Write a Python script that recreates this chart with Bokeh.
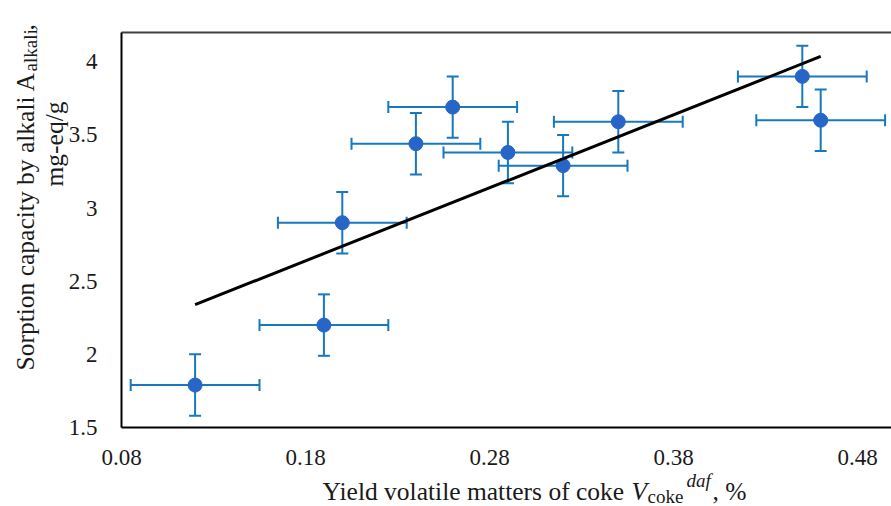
import numpy as np
from bokeh.plotting import figure
from bokeh.models import (ColumnDataSource, Whisker, TeeHead, FixedTicker, Label,
                          LinearAxis, Range1d)
from bokeh.embed import file_html
from bokeh.resources import INLINE

# ---- data ----
volatile = [0.12, 0.19, 0.20, 0.24, 0.26, 0.29, 0.32, 0.35, 0.45, 0.46]
sorption = [1.79, 2.20, 2.90, 3.44, 3.69, 3.38, 3.29, 3.59, 3.90, 3.60]
volatile_err = [0.035, 0.035, 0.035, 0.035, 0.035, 0.035, 0.035, 0.035, 0.035, 0.035]
sorption_err = [0.21, 0.21, 0.21, 0.21, 0.21, 0.21, 0.21, 0.21, 0.21, 0.21]
x_ticks = [0.08, 0.18, 0.28, 0.38, 0.48]
x_tick_labels = ["0.08", "0.18", "0.28", "0.38", "0.48"]
y_ticks = [1.5, 2.0, 2.5, 3.0, 3.5, 4.0]
y_tick_labels = ["1.5", "2", "2.5", "3", "3.5", "4"]
x_axis_min, y_axis_min, y_axis_max = 0.08, 1.5, 4.2

# ---- layout (pixels of the 891x506 canvas) ----
W, H = 891, 506
AX_L, AX_B, AX_T = 121, 427, 32     # pixel positions of the axis lines / top border
PXX = 1840.0                         # pixels per x unit
PXY = (AX_B - AX_T) / (y_axis_max - y_axis_min)
XA = x_axis_min - AX_L / PXX
XB = x_axis_min + (W - AX_L) / PXX
YB = y_axis_max + AX_T / PXY
YA = y_axis_min - (H - AX_B) / PXY


def dx(px):
    return XA + px / PXX


def dy(py):
    return YB - py / PXY


FONT = "Liberation Serif"
TXT = "#1a1a1a"
BAR = "#1679BE"
MARK = "#2766C6"

p = figure(width=W, height=H, x_range=Range1d(XA, XB), y_range=Range1d(YA, YB),
           output_backend="svg", toolbar_location=None, min_border=0,
           x_axis_type=None, y_axis_type=None)
p.outline_line_color = None
p.background_fill_color = "white"
p.border_fill_color = "white"

xax = LinearAxis(fixed_location=y_axis_min, bounds=(x_axis_min, XB))
yax = LinearAxis(fixed_location=x_axis_min, bounds=(y_axis_min, y_axis_max))
for ax, ticks, labels in ((xax, x_ticks, x_tick_labels), (yax, y_ticks, y_tick_labels)):
    ax.ticker = FixedTicker(ticks=ticks)
    ax.major_label_overrides = {t: l for t, l in zip(ticks, labels)}
    ax.major_tick_line_color = None
    ax.minor_tick_line_color = None
    ax.axis_line_color = "black"
    ax.axis_line_width = 2
    ax.major_label_text_font = FONT
    ax.major_label_text_font_size = "23px"
    ax.major_label_text_color = TXT
xax.major_label_standoff = 16
yax.major_label_standoff = 18
p.add_layout(xax, "below")
p.add_layout(yax, "left")

top = LinearAxis(fixed_location=y_axis_max, bounds=(x_axis_min, XB),
                 ticker=FixedTicker(ticks=[]), axis_line_color="#404040", axis_line_width=2,
                 major_tick_line_color=None, minor_tick_line_color=None,
                 major_label_text_font_size="0px")
p.add_layout(top, "above")

src = ColumnDataSource(dict(
    x=volatile, y=sorption,
    xl=[a - e for a, e in zip(volatile, volatile_err)],
    xu=[a + e for a, e in zip(volatile, volatile_err)],
    yl=[a - e for a, e in zip(sorption, sorption_err)],
    yu=[a + e for a, e in zip(sorption, sorption_err)],
))

for base, lo, up, dim in (("y", "xl", "xu", "width"), ("x", "yl", "yu", "height")):
    p.add_layout(Whisker(source=src, base=base, lower=lo, upper=up, dimension=dim,
                         line_color=BAR, line_width=2,
                         upper_head=TeeHead(size=12, line_color=BAR, line_width=2),
                         lower_head=TeeHead(size=12, line_color=BAR, line_width=2)))

p.scatter("x", "y", source=src, size=14, fill_color=MARK, line_color=MARK)

coef = np.polyfit(volatile, sorption, 1)
tx = [min(volatile), max(volatile)]
ty = list(np.polyval(coef, tx))
p.line(tx, ty, line_color="black", line_width=3)


# ---- axis titles built from pieces ----
def lab(text, px, py, size, italic=False, angle=0.0):
    p.add_layout(Label(x=dx(px), y=dy(py), text=text, text_font=FONT,
                       text_font_size=f"{size}px", text_color=TXT,
                       text_font_style="italic" if italic else "normal",
                       text_align="left", text_baseline="alphabetic", angle=angle))


BASE = 491
lab("Yield volatile matters of coke", 322, BASE, 25.5)
lab("V", 631, BASE, 25.5, italic=True)
lab("coke", 647, BASE + 5, 19)
lab("daf", 686, BASE - 11, 19, italic=True)
lab(", %", 712, BASE, 25.5)

ang = np.pi / 2
lab("Sorption capacity by alkali A", 25, 370, 25.5, angle=ang)
lab("alkali", 30, 71, 19, angle=ang)
lab(",", 25, 30, 25.5, angle=ang)
lab("mg-eq/g", 54, 186, 25.5, angle=ang)

open("out.html", "w").write(file_html(p, INLINE))
